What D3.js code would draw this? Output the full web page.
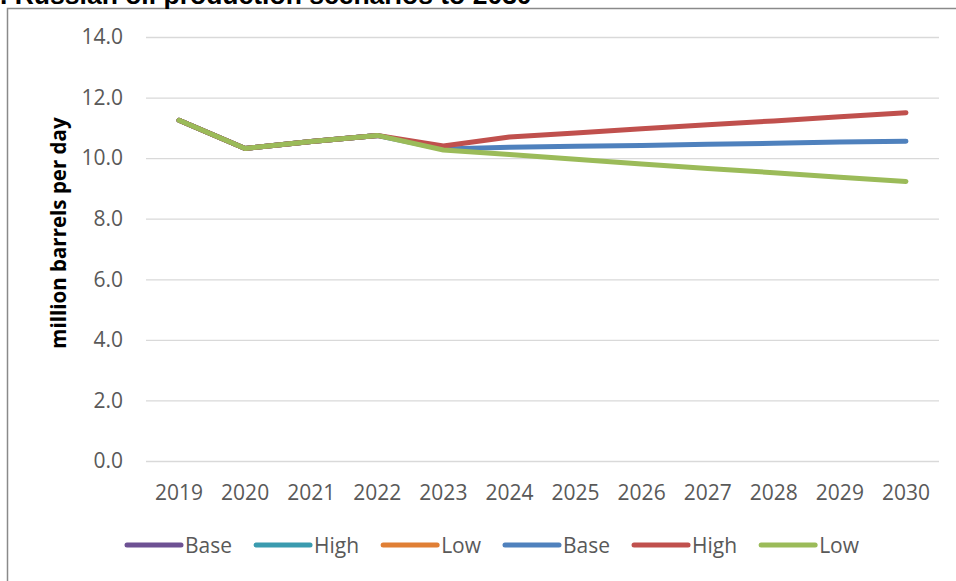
<!DOCTYPE html>
<html>
<head>
<meta charset="utf-8">
<script src="https://cdn.jsdelivr.net/npm/d3@7"></script>
<style>
  body { margin: 0; background: #fff; }
  svg { display: block; }
</style>
</head>
<body>
<div id="chart"></div>
<script>
const years = ["2019", "2020", "2021", "2022", "2023", "2024", "2025", "2026", "2027", "2028", "2029", "2030"];
const yTicks = [0, 2, 4, 6, 8, 10, 12, 14];

// first three series only cover the history and sit under the others
const histBase = [11.25, 10.32, 10.55, 10.75, null, null, null, null, null, null, null, null];
const histHigh = [11.25, 10.32, 10.55, 10.75, null, null, null, null, null, null, null, null];
const histLow  = [11.25, 10.32, 10.55, 10.75, null, null, null, null, null, null, null, null];
const base = [11.25, 10.32, 10.55, 10.75, 10.30, 10.36, 10.39, 10.42, 10.46, 10.49, 10.53, 10.56];
const high = [11.25, 10.32, 10.55, 10.75, 10.40, 10.70, 10.83, 10.97, 11.10, 11.23, 11.37, 11.50];
const low  = [11.25, 10.32, 10.55, 10.75, 10.27, 10.12, 9.96, 9.81, 9.66, 9.52, 9.37, 9.23];

const seriesNames = ["Base", "High", "Low", "Base", "High", "Low"];
const seriesColors = ["#6D5193", "#3A9BAF", "#E07F35", "#4F81BD", "#C0504D", "#9BBB59"];

const width = 956, height = 581;
const margin = {left: 146, right: 17, top: 37, bottom: 120};
const font = "'Open Sans', sans-serif";

function build_series() {
    let all = [histBase, histHigh, histLow, base, high, low];
    return all.map((vals, i) => ({
        name: seriesNames[i],
        color: seriesColors[i],
        values: vals.map((v, j) => ({year: years[j], value: v}))
    }));
}

function create_svg() {
    const series = build_series();

    const x = d3.scaleBand()
        .domain(years)
        .range([margin.left, width - margin.right]);

    const y = d3.scaleLinear()
        .domain([0, 14])
        .range([height - margin.bottom, margin.top]);

    const svg = d3.select("#chart").append("svg")
        .attr("width", width)
        .attr("height", height)
        .attr("viewBox", [0, 0, width, height]);

    // chart area border (runs off the right / bottom edge)
    svg.append("rect")
        .attr("x", 7.5)
        .attr("y", 8.5)
        .attr("width", width + 20)
        .attr("height", height + 20)
        .attr("fill", "none")
        .attr("stroke", "#8a8a8a")
        .attr("stroke-width", 1.5);

    // title, mostly cropped at the top like in the source
    svg.append("text")
        .attr("x", 0)
        .attr("y", 4)
        .attr("font-family", "'Liberation Sans', Arial, sans-serif")
        .attr("font-weight", "bold")
        .attr("font-size", 26.5)
        .attr("fill", "#000")
        .text(". Russian oil production scenarios to 2030");

    // y axis + gridlines
    const yAxis = svg.append("g")
        .attr("transform", `translate(${margin.left},0)`)
        .call(d3.axisLeft(y)
            .tickValues(yTicks)
            .tickFormat(d3.format(".1f"))
            .tickSize(-(width - margin.left - margin.right))
            .tickPadding(23));
    yAxis.select(".domain").remove();
    yAxis.selectAll(".tick line")
        .attr("stroke", "#d9d9d9")
        .attr("stroke-width", 1.3);
    yAxis.selectAll(".tick text")
        .attr("font-family", font)
        .attr("font-size", 21)
        .attr("fill", "#595959");

    // x axis labels
    const xAxis = svg.append("g")
        .attr("transform", `translate(0,${height - margin.bottom})`)
        .call(d3.axisBottom(x).tickSize(0).tickPadding(0));
    xAxis.select(".domain").remove();
    xAxis.selectAll(".tick text")
        .attr("dy", null)
        .attr("y", 39)
        .attr("font-family", font)
        .attr("font-size", 21)
        .attr("fill", "#595959");

    svg.append("text")
        .attr("transform", `translate(66,${(margin.top + height - margin.bottom) / 2 - 16}) rotate(-90)`)
        .attr("text-anchor", "middle")
        .attr("font-family", font)
        .attr("font-weight", "bold")
        .attr("font-size", 20.5)
        .attr("fill", "#000")
        .text("million barrels per day");

    const line = d3.line()
        .defined(d => d.value != null)
        .x(d => x(d.year) + x.bandwidth() / 2)
        .y(d => y(d.value));

    svg.append("g")
        .attr("fill", "none")
        .attr("stroke-width", 5)
        .attr("stroke-linecap", "round")
        .attr("stroke-linejoin", "round")
        .selectAll("path")
        .data(series)
        .join("path")
        .attr("stroke", d => d.color)
        .attr("d", d => line(d.values));

    // legend, laid out left to right
    const legend = svg.append("g")
        .attr("transform", "translate(127,545)");
    let cx = 0;
    series.forEach(s => {
        const item = legend.append("g").attr("transform", `translate(${cx},0)`);
        item.append("line")
            .attr("x1", 0)
            .attr("x2", 54)
            .attr("stroke", s.color)
            .attr("stroke-width", 5)
            .attr("stroke-linecap", "round");
        const t = item.append("text")
            .attr("x", 58)
            .attr("y", 7.5)
            .attr("font-family", font)
            .attr("font-size", 21)
            .attr("fill", "#595959")
            .text(s.name);
        cx += 58 + t.node().getComputedTextLength() + 24;
    });

    return svg;
}

create_svg();
</script>
</body>
</html>
